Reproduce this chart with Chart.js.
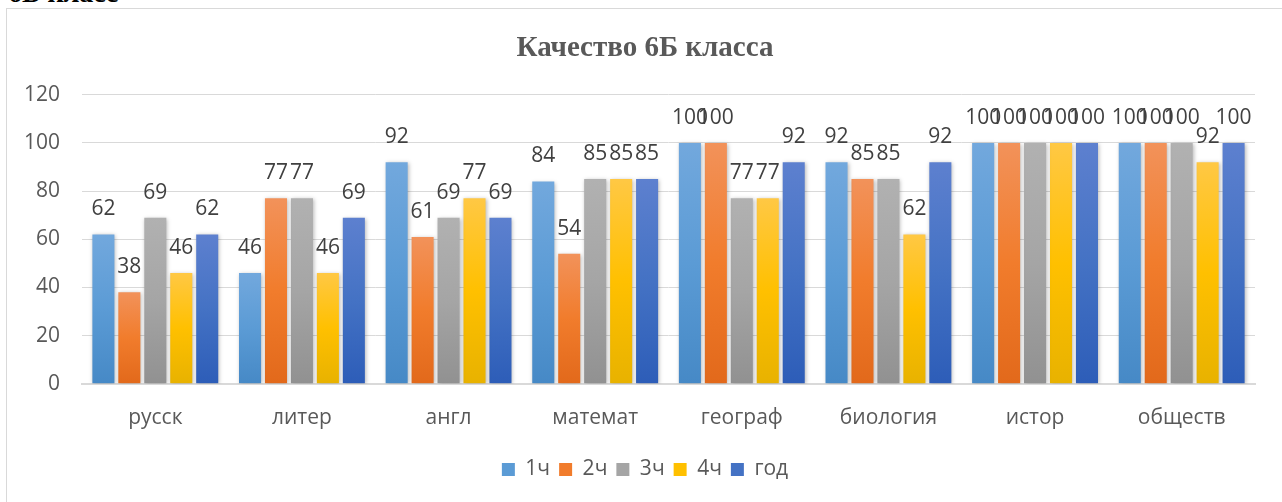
<!DOCTYPE html>
<html>
<head>
<meta charset="utf-8">
<script src="https://cdn.jsdelivr.net/npm/chart.js@4.4.0/dist/chart.umd.min.js"></script>
<style>
  html, body { margin: 0; padding: 0; background: #fff; overflow: hidden; }
  body { width: 1282px; height: 502px; position: relative; }
  #caption { position: absolute; left: 8px; top: -23px; font: bold 28px "Liberation Serif", serif; color: #000; }
  #box { position: absolute; left: 6px; top: 8px; width: 1300px; height: 520px;
         border-top: 1px solid #d9d9d9; border-left: 1px solid #d9d9d9; }
  #wrap { position: absolute; left: 7px; top: 9px; width: 1276px; height: 493px; }
</style>
</head>
<body>
<div id="caption">6Б класс</div>
<div id="box"></div>
<div id="wrap"><canvas id="chart"></canvas></div>
<script>
// данные
const subjects = ['русск', 'литер', 'англ', 'математ', 'географ', 'биология', 'истор', 'обществ'];
const seriesNames = ['1ч', '2ч', '3ч', '4ч', 'год'];
const q1 = [62, 46, 92, 84, 100, 92, 100, 100];
const q2 = [38, 77, 61, 54, 100, 85, 100, 100];
const q3 = [69, 77, 69, 85, 77, 85, 100, 100];
const q4 = [46, 46, 77, 85, 77, 62, 100, 92];
const year = [62, 69, 69, 85, 92, 92, 100, 100];
const yTicks = [0, 20, 40, 60, 80, 100, 120];

// цвета: верх, середина, низ (градиент как в Office)
const palette = [
    ['#72a8dd', '#5b9bd5', '#4689c6'],
    ['#f2925a', '#f17c2c', '#e2691b'],
    ['#b1b1b1', '#a5a5a5', '#919191'],
    ['#ffc844', '#ffc000', '#e8b200'],
    ['#5d80cf', '#4472c4', '#2d5db8']
];

const gray = '#595959';
const fontMain = '"Open Sans", "Liberation Sans", sans-serif';

function barGradient(ctx, idx) {
    const chart = ctx.chart;
    const c = palette[idx];
    if (!chart.chartArea || ctx.type !== 'data') return c[1];
    const y = chart.scales.y;
    const top = y.getPixelForValue(ctx.raw);
    const bottom = y.getPixelForValue(0);
    if (!isFinite(top) || !isFinite(bottom) || top === bottom) return c[1];
    const g = chart.ctx.createLinearGradient(0, top, 0, bottom);
    g.addColorStop(0, c[0]);
    g.addColorStop(0.5, c[1]);
    g.addColorStop(1, c[2]);
    return g;
}

// подписи значений над столбцами
const valueLabels = {
    id: 'valueLabels',
    beforeDatasetsDraw(chart) {
        const ctx = chart.ctx;
        ctx.save();
        ctx.shadowColor = 'rgba(0,0,0,0.28)';
        ctx.shadowBlur = 4;
        ctx.shadowOffsetX = 1;
        ctx.shadowOffsetY = 1;
    },
    afterDatasetsDraw(chart) {
        const ctx = chart.ctx;
        ctx.restore();
        ctx.save();
        ctx.font = '21px ' + fontMain;
        ctx.fillStyle = '#404040';
        ctx.textAlign = 'center';
        ctx.textBaseline = 'middle';
        chart.data.datasets.forEach((ds, i) => {
            const meta = chart.getDatasetMeta(i);
            meta.data.forEach((bar, j) => {
                ctx.fillText(String(ds.data[j]), bar.x, bar.y - 25);
            });
        });
        ctx.restore();
    }
};

const allSeries = [q1, q2, q3, q4, year];

new Chart(document.getElementById('chart').getContext('2d'), {
    type: 'bar',
    data: {
        labels: subjects,
        datasets: allSeries.map((d, i) => ({
            label: seriesNames[i],
            data: d,
            backgroundColor: (ctx) => barGradient(ctx, i),
            borderWidth: 0,
            barPercentage: 0.85,
            categoryPercentage: 0.885
        }))
    },
    options: {
        responsive: true,
        maintainAspectRatio: false,
        animation: false,
        layout: { padding: { left: 0, right: 0, top: 0, bottom: 12 } },
        plugins: {
            title: {
                display: true,
                text: 'Качество 6Б класса',
                color: gray,
                font: { family: '"Liberation Serif", serif', size: 29, weight: 'bold' },
                padding: { top: 22, bottom: 29 }
            },
            legend: {
                position: 'bottom',
                labels: {
                    color: gray,
                    font: { family: fontMain, size: 21 },
                    boxWidth: 13,
                    boxHeight: 13,
                    padding: 9,
                    generateLabels(chart) {
                        return chart.data.datasets.map((ds, i) => ({
                            text: ds.label,
                            fillStyle: palette[i][1],
                            strokeStyle: palette[i][1],
                            lineWidth: 0,
                            fontColor: gray,
                            datasetIndex: i,
                            hidden: false
                        }));
                    }
                }
            },
            tooltip: { enabled: false }
        },
        scales: {
            x: {
                afterFit(scale) { scale.height += 5; },
                grid: { display: false },
                border: { color: '#d9d9d9', width: 2 },
                ticks: { color: gray, font: { family: fontMain, size: 21 }, padding: 14 }
            },
            y: {
                min: 0,
                max: 120,
                afterBuildTicks(scale) {
                    scale.ticks = yTicks.map(v => ({ value: v }));
                },
                afterFit(scale) { scale.width = 75; },
                grid: { color: '#d9d9d9', lineWidth: 1, drawTicks: false },
                border: { display: false },
                ticks: { color: gray, font: { family: fontMain, size: 21 }, padding: 22 }
            },
            // пустая ось справа — отступ области построения
            yRight: {
                position: 'right',
                min: 0,
                max: 120,
                afterFit(scale) { scale.width = 28; },
                grid: { display: false },
                border: { display: false },
                ticks: { display: false }
            }
        }
    },
    plugins: [valueLabels]
});
</script>
</body>
</html>
